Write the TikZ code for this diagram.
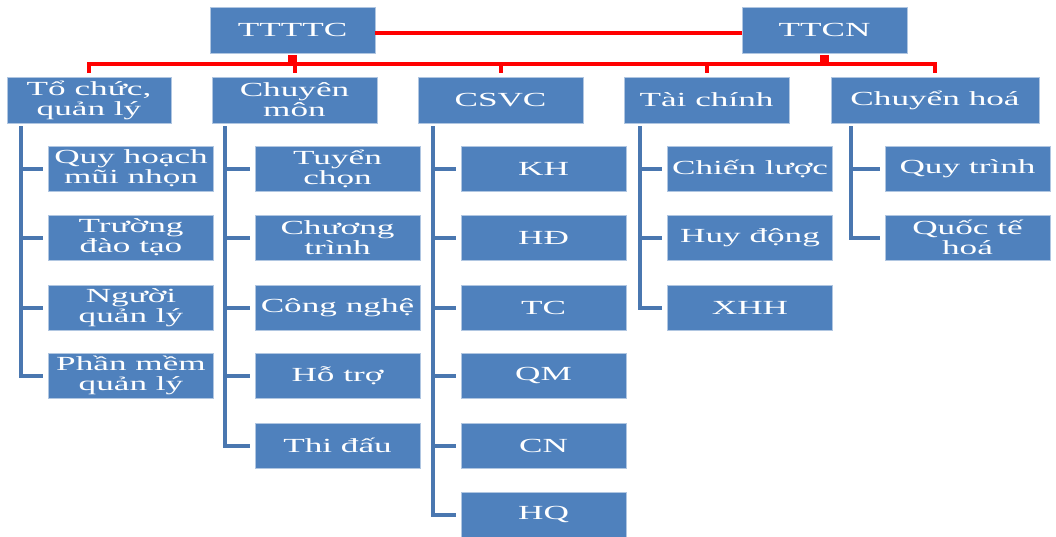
\documentclass[tikz,border=0pt]{standalone}
\usepackage{fontspec}
\setmainfont{Liberation Serif}[FakeStretch=1.76]
\definecolor{boxblue}{HTML}{4F81BD}
\definecolor{linkblue}{HTML}{4A77B0}
\definecolor{linkred}{HTML}{FF0000}
\begin{document}
\begin{tikzpicture}[x=1pt,y=-1pt,
  box/.style={rectangle, fill=boxblue, draw=boxblue!45!white, line width=0.8pt,
    text=white, align=center, inner sep=0pt, minimum width=165pt,
    font=\fontsize{20}{20}\selectfont},
  topbox/.style={box, minimum height=46pt},
  subbox/.style={box, minimum height=45pt},
  redline/.style={draw=linkred, line width=4pt, line join=miter},
  stubline/.style={draw=linkred, line width=9pt},
  blueline/.style={draw=linkblue, line width=4pt, line join=miter}]
\useasboundingbox (0,0) rectangle (1056,536);

% top level
\node[topbox] (tttc) at (292.5,30) {TTTTC};
\node[topbox] (ttcn) at (824.5,30) {TTCN};

% second level
\node[topbox, minimum width=164pt] (tochuc) at (89,100) {Tổ chức,\\quản lý};
\node[topbox] (chuyenmon) at (294.5,100) {Chuyên\\môn};
\node[topbox] (csvc) at (500.5,100) {CSVC};
\node[topbox] (taichinh) at (706.5,100) {Tài chính};
\node[topbox, minimum width=208pt] (chuyenhoa) at (935,100) {Chuyển hoá};

% third level: Tổ chức, quản lý
\node[subbox] (a1) at (131,168.5) {Quy hoạch\\mũi nhọn};
\node[subbox] (a2) at (131,237.5) {Trường\\đào tạo};
\node[subbox] (a3) at (131,307.5) {Người\\quản lý};
\node[subbox] (a4) at (131,375.5) {Phần mềm\\quản lý};

% third level: Chuyên môn
\node[subbox] (b1) at (337.5,168.5) {Tuyển\\chọn};
\node[subbox] (b2) at (337.5,237.5) {Chương\\trình};
\node[subbox] (b3) at (337.5,307.5) {Công nghệ};
\node[subbox] (b4) at (337.5,375.5) {Hỗ trợ};
\node[subbox] (b5) at (337.5,445.5) {Thi đấu};

% third level: CSVC
\node[subbox] (c1) at (543.5,168.5) {KH};
\node[subbox] (c2) at (543.5,237.5) {HĐ};
\node[subbox] (c3) at (543.5,307.5) {TC};
\node[subbox] (c4) at (543.5,375.5) {QM};
\node[subbox] (c5) at (543.5,445.5) {CN};
\node[subbox] (c6) at (543.5,514.5) {HQ};

% third level: Tài chính
\node[subbox] (d1) at (750,168.5) {Chiến lược};
\node[subbox] (d2) at (750,237.5) {Huy động};
\node[subbox] (d3) at (750,307.5) {XHH};

% third level: Chuyển hoá
\node[subbox] (e1) at (967.5,168.5) {Quy trình};
\node[subbox] (e2) at (967.5,237.5) {Quốc tế\\hoá};

% red links between the two heads and down to the groups
\coordinate (bus) at (0,64);
\draw[redline] ([yshift=-3pt]tttc.east) -- ([yshift=-3pt]ttcn.west);
\draw[stubline] ([yshift=-2pt]tttc.south) -- (tttc.south |- bus);
\draw[stubline] ([yshift=-2pt]ttcn.south) -- (ttcn.south |- bus);
\draw[redline] ([yshift=4pt]tochuc.north) -- (tochuc.north |- bus)
  -- (chuyenhoa.north |- bus) -- ([yshift=4pt]chuyenhoa.north);
\draw[redline] (chuyenmon.north |- bus) -- ([yshift=4pt]chuyenmon.north);
\draw[redline] (csvc.north |- bus) -- ([yshift=4pt]csvc.north);
\draw[redline] (taichinh.north |- bus) -- ([yshift=4pt]taichinh.north);

% blue trunks for each group
\coordinate (v1) at (21,126);
\coordinate (v2) at (225,126);
\coordinate (v3) at (433,126);
\coordinate (v4) at (640,126);
\coordinate (v5) at (851,126);

\draw[blueline] (v1) |- ([xshift=-5pt]a4.west);
\foreach \n in {a1,a2,a3}
  \draw[blueline] (v1 |- \n.west) -- ([xshift=-5pt]\n.west);

\draw[blueline] (v2) |- ([xshift=-5pt]b5.west);
\foreach \n in {b1,b2,b3,b4}
  \draw[blueline] (v2 |- \n.west) -- ([xshift=-5pt]\n.west);

\draw[blueline] (v3) |- ([xshift=-5pt]c6.west);
\foreach \n in {c1,c2,c3,c4,c5}
  \draw[blueline] (v3 |- \n.west) -- ([xshift=-5pt]\n.west);

\draw[blueline] (v4) |- ([xshift=-5pt]d3.west);
\foreach \n in {d1,d2}
  \draw[blueline] (v4 |- \n.west) -- ([xshift=-5pt]\n.west);

\draw[blueline] (v5) |- ([xshift=-5pt]e2.west);
\draw[blueline] (v5 |- e1.west) -- ([xshift=-5pt]e1.west);
\end{tikzpicture}
\end{document}
